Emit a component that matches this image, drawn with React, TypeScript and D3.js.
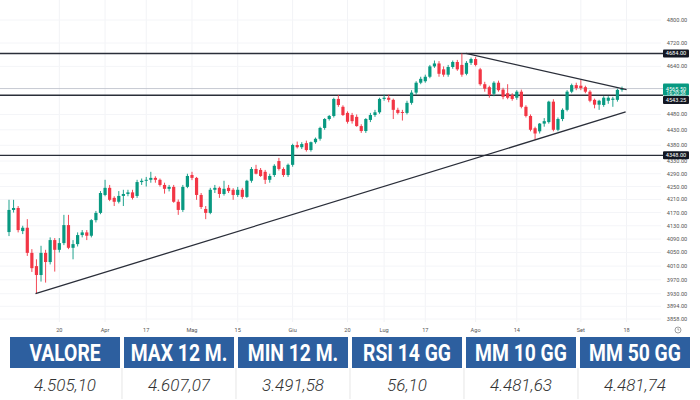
import React from "react";
import * as d3 from "d3";

const openP = [4111,4178,4184,4114,4124,4049,4010,3984,4049,4022, 4087,4058,4078,4132,4064,4075,4102,4110,4100,4147, 4169,4224,4246,4215,4203,4221,4227,4232,4221,4264, 4268,4271,4277,4271,4255,4243,4249,4203,4178,4249, 4286,4277,4224,4181,4169,4240,4246,4227,4246,4240, 4224,4240,4218,4268,4305,4302,4296,4271,4286,4330, 4305,4286,4318,4381,4374,4387,4365,4390,4401,4436, 4465,4475,4531,4505,4485,4478,4472,4442,4426,4462, 4478,4487,4531,4535,4528,4495,4488,4485,4518,4552, 4585,4590,4605,4640,4650,4630,4612,4638,4655,4645, 4615,4652,4665,4630,4580,4570,4548,4585,4562,4550, 4544,4535,4555,4505,4475,4435,4425,4450,4455,4522, 4430,4465,4495,4555,4577,4575,4570,4555,4528,4512, 4511,4525,4528,4528,4561];
const highP = [4209,4209,4190,4130,4150,4060,4030,4070,4058,4095, 4093,4093,4163,4163,4087,4110,4117,4117,4150,4175, 4236,4271,4255,4220,4236,4240,4240,4240,4271,4275, 4280,4296,4282,4275,4262,4255,4255,4210,4255,4290, 4296,4280,4230,4190,4246,4255,4250,4268,4255,4245, 4249,4246,4271,4311,4318,4308,4302,4290,4320,4340, 4310,4322,4385,4392,4390,4395,4392,4405,4440,4468, 4478,4535,4544,4510,4490,4485,4480,4448,4468,4485, 4495,4535,4545,4545,4532,4502,4495,4525,4560,4590, 4605,4612,4645,4660,4658,4640,4645,4660,4662,4684, 4658,4670,4672,4635,4588,4575,4590,4592,4568,4580, 4550,4560,4562,4510,4480,4440,4452,4468,4525,4530, 4470,4500,4560,4582,4585,4594,4575,4560,4532,4528, 4540,4540,4538,4565,4572];
const lowP = [4099,4170,4110,4105,4040,3993,3930,3965,3962,4015, 3994,4050,4072,4060,4030,4068,4095,4087,4095,4140, 4165,4220,4205,4190,4198,4190,4220,4210,4215,4255, 4250,4262,4262,4250,4228,4235,4200,4163,4172,4245, 4270,4209,4181,4150,4165,4230,4215,4222,4230,4209, 4218,4212,4215,4262,4288,4280,4258,4262,4280,4300, 4280,4280,4312,4370,4368,4360,4360,4385,4395,4430, 4460,4470,4505,4475,4450,4450,4440,4420,4420,4455, 4472,4482,4525,4520,4465,4480,4460,4480,4512,4545, 4580,4585,4600,4635,4605,4605,4605,4632,4625,4605, 4610,4645,4640,4575,4555,4535,4540,4555,4530,4530, 4525,4528,4500,4470,4425,4397,4418,4440,4450,4425, 4425,4458,4490,4550,4560,4560,4550,4520,4500,4495, 4505,4515,4505,4522,4555];
const closeP = [4178,4184,4117,4124,4049,4004,3984,4049,4022,4087, 4058,4078,4132,4064,4075,4102,4110,4100,4147,4169, 4230,4246,4209,4203,4221,4227,4232,4215,4264,4268, 4271,4277,4271,4255,4243,4249,4203,4178,4249,4283, 4277,4224,4187,4169,4240,4246,4227,4243,4236,4224, 4240,4218,4268,4305,4290,4283,4271,4283,4315,4305, 4286,4318,4381,4374,4384,4365,4390,4401,4436,4465, 4475,4531,4511,4478,4456,4458,4442,4426,4465,4478, 4487,4531,4535,4528,4495,4485,4485,4518,4552,4585, 4598,4605,4640,4650,4615,4612,4638,4655,4630,4612, 4652,4665,4645,4580,4565,4544,4585,4560,4538,4535, 4531,4555,4505,4475,4430,4418,4450,4458,4522,4430, 4465,4495,4555,4577,4567,4567,4555,4525,4512,4525, 4535,4535,4532,4561,4565.5];

const yTicks = [4800,4720,4640,4480,4430,4380,4330,4290,4250,4210,4170,4130,4090,4050,4010,3970,3930,3894,3858];
const xTickIdx = [11,21,30,40,50,62,74,82,91,102,111,125,135];
const xTickLabels = ["20","Apr","17","Mag","15","Giu","20","Lug","17","Ago","14","Set","18"];
const levels = [4684, 4543.25, 4348];
const lastPrice = 4565.5;
const countdown = "16:20:38";
const supportLine: [number, number][] = [[5.8, 3930], [134.8, 4488]];
const resistLine: [number, number][] = [[99.9, 4684], [135, 4562]];
const headers = ["VALORE", "MAX 12 M.", "MIN 12 M.", "RSI 14 GG", "MM 10 GG", "MM 50 GG"];
const values = ["4.505,10", "4.607,07", "3.491,58", "56,10", "4.481,63", "4.481,74"];

const UP = "#089981";
const DOWN = "#f23645";

export default function App() {
  const W = 700, H = 400;
  const x = d3.scaleLinear().domain([0, openP.length - 1]).range([9, 622]);
  const y = d3.scaleLog().domain([3858, 4800]).range([319, 20]);
  const bw = 3.2;
  const axisX = 663;
  const boxW = 26;
  const fmt = d3.format(".2f");
  const line = d3.line<[number, number]>().x(d => x(d[0])).y(d => y(d[1]));

  const lastY = y(lastPrice);
  const greenTop = lastY - 5, greenBot = lastY + 7;

  const col = d3.scaleBand<string>().domain(headers).range([10, 690]).paddingInner(0.035);
  const headTop = 337, headBot = 368, rowBot = 399;

  return (
    <svg width={W} height={H} style={{ position: "absolute", left: 0, top: 0, background: "#fff" }}
      fontFamily="Roboto, 'Noto Sans', sans-serif">
      <rect x={0} y={0} width={W} height={H} fill="#fff" />
      {xTickIdx.map((d, k) => (
        <line key={"vg" + k} x1={x(d)} x2={x(d)} y1={0} y2={322} stroke="#f2f3f6" strokeWidth={1} />
      ))}
      {yTicks.map((t, k) => (
        <line key={"hg" + k} x1={0} x2={axisX - 2} y1={y(t)} y2={y(t)} stroke="#f4f5f8" strokeWidth={1} />
      ))}
      <line x1={0} x2={axisX} y1={lastY} y2={lastY} stroke="#b8bcc6" strokeWidth={0.8} />
      {levels.map((v, k) => (
        <line key={"lv" + k} x1={0} x2={axisX} y1={y(v)} y2={y(v)} stroke="#2a2e39" strokeWidth={1.3} />
      ))}
      {openP.map((o, i) => {
        const c = closeP[i];
        const cl = c >= o ? UP : DOWN;
        const top = y(Math.max(o, c));
        const bot = y(Math.min(o, c));
        return (
          <g key={"c" + i}>
            <line x1={x(i)} x2={x(i)} y1={y(highP[i])} y2={y(lowP[i])} stroke={cl} strokeWidth={0.9} />
            <rect x={x(i) - bw / 2} y={top} width={bw} height={Math.max(bot - top, 0.8)} fill={cl} />
          </g>
        );
      })}
      <path d={line(supportLine) || ""} stroke="#2a2e39" strokeWidth={1.3} fill="none" />
      <path d={line(resistLine) || ""} stroke="#2a2e39" strokeWidth={1.3} fill="none" />
      {yTicks.map((t, k) => (
        <text key={"yt" + k} x={677} y={y(t)} dy="0.35em" fontSize={5.6} fill="#555" textAnchor="middle">{fmt(t)}</text>
      ))}
      {levels.map((v, k) => {
        let cy = y(v);
        if (cy - 4 < greenBot && cy + 4 > greenTop) cy = greenBot + 4.5;
        return (
          <g key={"lb" + k}>
            <rect x={axisX} y={cy - 4} width={boxW} height={8} fill="#131722" rx={1} />
            <text x={axisX + boxW / 2} y={cy} dy="0.35em" fontSize={5.6} fill="#fff" textAnchor="middle">{fmt(v)}</text>
          </g>
        );
      })}
      <rect x={axisX} y={greenTop} width={boxW} height={greenBot - greenTop} fill={UP} rx={1} />
      <text x={axisX + boxW / 2} y={lastY} dy="0.35em" fontSize={5.6} fill="#fff" textAnchor="middle">{fmt(lastPrice)}</text>
      <text x={axisX + boxW / 2} y={lastY + 5} dy="0.35em" fontSize={5} fill="#fff" textAnchor="middle">{countdown}</text>
      {xTickIdx.map((d, k) => (
        <text key={"xt" + k} x={x(d)} y={330} dy="0.35em" fontSize={5.6} fill="#555" textAnchor="middle">{xTickLabels[k]}</text>
      ))}
      <g transform="translate(678,330)">
        <circle r={3} fill="none" stroke="#777" strokeWidth={0.7} />
        <path d="M0,-1.8 V0 H1.3" fill="none" stroke="#777" strokeWidth={0.6} />
      </g>
      {headers.map((h, k) => {
        const x0 = col(h) || 0;
        const cx = x0 + col.bandwidth() / 2;
        return (
          <g key={"th" + k}>
            <rect x={x0} y={headTop} width={col.bandwidth()} height={headBot - headTop} fill="#2d5f9f" />
            <text transform={`translate(${cx},${(headTop + headBot) / 2}) scale(0.84,1)`} dy="0.36em" textAnchor="middle" fill="#fff"
              fontFamily="Roboto, 'Noto Sans', sans-serif"
              fontWeight={700} fontSize={23}>{h}</text>
            <text x={cx} y={(headBot + rowBot) / 2 + 1} dy="0.36em" textAnchor="middle" fill="#333"
              fontStyle="italic" fontWeight={300} fontSize={17}>{values[k]}</text>
            {k > 0 && (
              <line x1={x0 - 2} x2={x0 - 2} y1={headBot} y2={rowBot} stroke="#e6e6e6" strokeWidth={1} />
            )}
          </g>
        );
      })}
    </svg>
  );
}
